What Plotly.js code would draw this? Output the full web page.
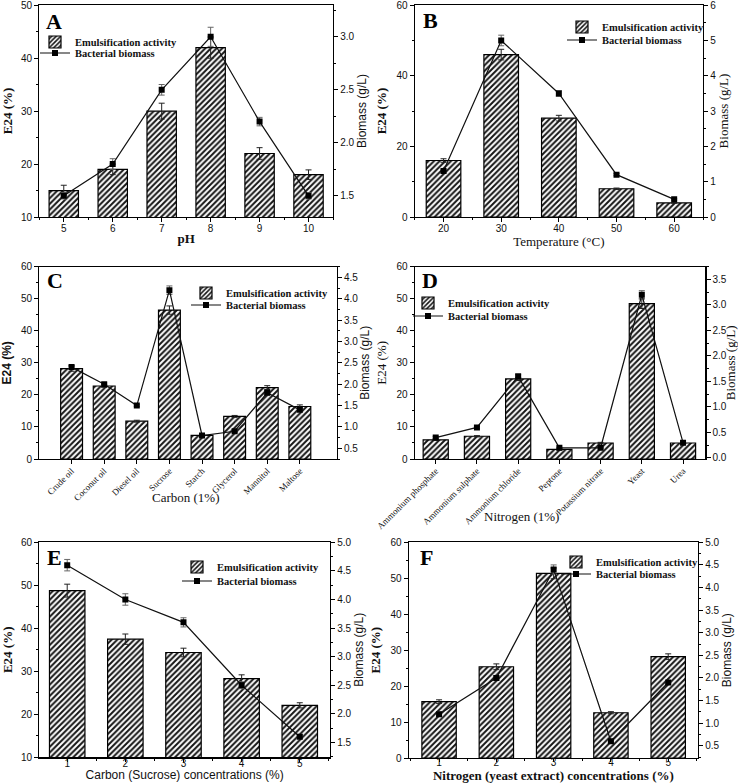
<!DOCTYPE html>
<html>
<head>
<meta charset="utf-8">
<script src="https://cdn.plot.ly/plotly-3.0.1.min.js"></script>
<style>
html,body{margin:0;padding:0;background:#fff;}
#chart{width:738px;height:784px;}
</style>
</head>
<body>
<div id="chart"></div>
<script>
// ---------- Data ----------
const pHLevels = [5, 6, 7, 8, 9, 10];
const pHEmulsification = [15, 19, 30, 42, 22, 18];
const pHEmulsificationErr = [1.0, 1.0, 1.5, 2.0, 1.1, 0.9];
const pHBiomass = [1.5, 1.8, 2.5, 3.0, 2.2, 1.5];
const pHBiomassErr = [0.03, 0.05, 0.05, 0.09, 0.04, 0.03];

const tempLevels = [20, 30, 40, 50, 60];
const tempEmulsification = [16, 46, 28, 8, 4];
const tempEmulsificationErr = [0.5, 1.5, 0.8, 0.2, 0.1];
const tempBiomass = [1.3, 5.0, 3.5, 1.2, 0.5];
const tempBiomassErr = [0.05, 0.15, 0.08, 0.03, 0.02];

const carbonSources = ['Crude oil', 'Coconut oil', 'Diesel oil', 'Sucrose', 'Starch', 'Glycerol', 'Mannitol', 'Maltose'];
const carbonEmulsification = [28.2, 22.8, 11.8, 46.5, 7.4, 13.3, 22.3, 16.4];
const carbonEmulsificationErr = [0.8, 0.4, 0.3, 1.3, 0.2, 0.3, 0.6, 0.5];
const carbonBiomass = [2.4, 2.0, 1.5, 4.2, 0.8, 0.9, 1.8, 1.4];
const carbonBiomassErr = [0.04, 0.03, 0.02, 0.1, 0.02, 0.02, 0.05, 0.03];

const nitrogenSources = ['Ammonium phosphate', 'Ammonium sulphate', 'Ammonium chloride', 'Peptone', 'Potassium nitrate', 'Yeast', 'Urea'];
const nitrogenEmulsification = [6, 7.1, 25, 3, 5, 48.5, 5];
const nitrogenEmulsificationErr = [0.2, 0.2, 0.5, 0.2, 0.2, 1.5, 0.2];
const nitrogenBiomass = [0.4, 0.6, 1.6, 0.2, 0.2, 3.2, 0.3];
const nitrogenBiomassErr = [0.02, 0.02, 0.03, 0.01, 0.01, 0.08, 0.01];

const sucroseConc = [1, 2, 3, 4, 5];
const sucroseEmulsification = [48.8, 37.5, 34.4, 28.3, 22.1];
const sucroseEmulsificationErr = [1.5, 1.2, 1.0, 0.9, 0.6];
const sucroseBiomass = [4.6, 4.0, 3.6, 2.5, 1.6];
const sucroseBiomassErr = [0.1, 0.1, 0.08, 0.06, 0.03];

const yeastConc = [1, 2, 3, 4, 5];
const yeastEmulsification = [15.7, 25.4, 51.4, 12.6, 28.2];
const yeastEmulsificationErr = [0.5, 0.8, 1.5, 0.3, 0.8];
const yeastBiomass = [1.2, 2.0, 4.4, 0.6, 1.9];
const yeastBiomassErr = [0.05, 0.05, 0.1, 0.02, 0.03];

const panelLetters = ['A', 'B', 'C', 'D', 'E', 'F'];
const xTitles = ['pH', 'Temperature (°C)', 'Carbon (1%)', 'Nitrogen (1%)', 'Carbon (Sucrose) concentrations (%)', 'Nitrogen (yeast extract) concentrations (%)'];
const barName = 'Emulsification activity';
const lineName = 'Bacterial biomass';
const leftTitle = 'E24 (%)';
const rightTitle = 'Biomass (g/L)';

// ---------- Geometry helpers ----------
const SERIF = 'Liberation Serif, Times New Roman, serif';
const SANS = 'Liberation Sans, Arial, sans-serif';
const W = 738, H = 784;
const ML = 36, MR = 30, MT = 4, MB = 26;
const PW = W - ML - MR, PH = H - MT - MB;
const clamp = v => Math.max(0, Math.min(1, v));
const px = v => (v - ML) / PW;
const py = v => 1 - (v - MT) / PH;

const panels = [
  {x: pHLevels, e: pHEmulsification, ee: pHEmulsificationErr, b: pHBiomass, be: pHBiomassErr, width: 0.6,
   dom: [39.3, 333, 5, 217], xr: [4.5, 10.5], xd: 1, yl: [10, 50.05], yd: 10, yr: [1.3, 3.3], yrd: 0.5, fmt: '.1f',
   yTitleFont: {family: SERIF, size: 13, weight: 'bold'}, xTitleFont: {family: SERIF, size: 13, weight: 'bold'}, rTitleFont: {family: SANS, size: 12},
   xStand: 0, xLabOff: -2, rows: [42, 53], textX: 76, letter: [54, 21]},
  {x: tempLevels, e: tempEmulsification, ee: tempEmulsificationErr, b: tempBiomass, be: tempBiomassErr, width: 6,
   dom: [414.7, 703, 5, 217], xr: [15, 65], xd: 10, yl: [0, 60.05], yd: 20, yr: [0, 6.005], yrd: 1, fmt: 'd',
   yTitleFont: {family: SERIF, size: 13, weight: 'bold'}, xTitleFont: {family: SERIF, size: 13}, rTitleFont: {family: SERIF, size: 13},
   xStand: 0, xLabOff: -2, rows: [27, 40], textX: 603, letter: [430, 20]},
  {x: carbonSources, e: carbonEmulsification, ee: carbonEmulsificationErr, b: carbonBiomass, be: carbonBiomassErr, width: 0.67, cat: true,
   dom: [39.3, 336.7, 266.7, 459], xr: [-0.99, 8.13], yl: [0, 60.05], yd: 10, yr: [0.25, 4.75], yrd: 0.5, fmt: '.1f',
   yTitleFont: {family: SANS, size: 12, weight: 'bold'}, xTitleFont: {family: SERIF, size: 13}, rTitleFont: {family: SANS, size: 12},
   xTitlePos: [186, 497], rows: [293, 305], textX: 227, letter: [55, 280]},
  {x: nitrogenSources, e: nitrogenEmulsification, ee: nitrogenEmulsificationErr, b: nitrogenBiomass, be: nitrogenBiomassErr, width: 0.61, cat: true,
   dom: [414.7, 705.3, 266.7, 459], xr: [-0.51, 6.54], yl: [0, 60.05], yd: 10, yr: [-0.02, 3.75], yrd: 0.5, fmt: '.1f',
   yTitleFont: {family: SERIF, size: 13}, xTitleFont: {family: SERIF, size: 13}, rTitleFont: {family: SERIF, size: 13},
   xTitlePos: [521, 516], rows: [303, 316], textX: 449, letter: [430, 280]},
  {x: sucroseConc, e: sucroseEmulsification, ee: sucroseEmulsificationErr, b: sucroseBiomass, be: sucroseBiomassErr, width: 0.61,
   dom: [39.3, 330, 542.3, 757.3], xr: [0.52, 5.52], xd: 1, yl: [10, 60.05], yd: 10, yr: [1.24, 5.0], yrd: 0.5, fmt: '.1f',
   yTitleFont: {family: SERIF, size: 13, weight: 'bold'}, xTitleFont: {family: SANS, size: 12}, rTitleFont: {family: SANS, size: 12},
   xStand: 0, xLabOff: -7, xTickLen: 3, rows: [567, 581], textX: 218, letter: [54, 557]},
  {x: yeastConc, e: yeastEmulsification, ee: yeastEmulsificationErr, b: yeastBiomass, be: yeastBiomassErr, width: 0.6,
   dom: [408.7, 698, 542.3, 758], xr: [0.47, 5.52], xd: 1, yl: [0, 60.05], yd: 10, yr: [0.23, 5.0], yrd: 0.5, fmt: '.1f',
   yTitleFont: {family: SERIF, size: 13, weight: 'bold'}, xTitleFont: {family: SERIF, size: 13, weight: 'bold'}, rTitleFont: {family: SANS, size: 12},
   xStand: 0, xLabOff: -8, xTickLen: 3, rows: [562, 574], textX: 597, letter: [426, 557]}
];

const data = [];
const layout = {
  width: W, height: H,
  margin: {l: ML, r: MR, t: MT, b: MB},
  paper_bgcolor: '#fff', plot_bgcolor: 'rgba(0,0,0,0)',
  font: {family: SANS, size: 10, color: '#111'},
  bargap: 0, annotations: [], showlegend: true
};
const legendKey = k => 'legend' + (k === 1 ? '' : k);

panels.forEach((p, i) => {
  const n = i + 1;
  const xa = 'x' + (n === 1 ? '' : n);
  const ya = 'y' + (n === 1 ? '' : n);
  const yr = 'y' + (n + 6);
  const legBar = legendKey(2 * i + 1);
  const legLine = legendKey(2 * i + 2);

  data.push({
    type: 'bar', x: p.x, y: p.e, width: p.width, name: barName, xaxis: xa, yaxis: ya, legend: legBar,
    marker: {color: '#151515', line: {color: '#000', width: 1.2},
      pattern: {shape: '/', fgcolor: '#151515', bgcolor: '#ffffff', size: 4, solidity: 0.5}},
    error_y: {type: 'data', array: p.ee, visible: true, color: '#222', thickness: 1, width: 3}
  });
  data.push({
    type: 'scatter', mode: 'lines+markers', x: p.x, y: p.b, name: lineName, xaxis: xa, yaxis: yr, legend: legLine,
    line: {color: '#111', width: 1.2}, marker: {symbol: 'square', size: 6, color: '#000'},
    error_y: {type: 'data', array: p.be, visible: true, color: '#666', thickness: 1, width: 3}
  });

  const xKey = 'xaxis' + (n === 1 ? '' : n);
  const yKey = 'yaxis' + (n === 1 ? '' : n);
  const yrKey = 'yaxis' + (n + 6);

  const xAxis = {
    domain: [clamp(px(p.dom[0])), clamp(px(p.dom[1]))], anchor: ya, range: p.xr,
    showline: true, linecolor: '#000', linewidth: 1.2, mirror: true,
    ticks: 'outside', ticklen: p.xTickLen || 4, tickcolor: '#000', showgrid: false, zeroline: false,
    automargin: false, ticklabeloverflow: 'allow'
  };
  if (p.cat) {
    xAxis.type = 'category';
    xAxis.tickangle = -45;
    xAxis.ticklabelstandoff = -2;
    xAxis.tickfont = {family: SERIF, size: 9, color: '#111'};
    layout.annotations.push({
      xref: 'paper', yref: 'paper', x: px(p.xTitlePos[0]), y: py(p.xTitlePos[1]),
      xanchor: 'center', yanchor: 'middle', showarrow: false,
      text: xTitles[i], font: Object.assign({color: '#111'}, p.xTitleFont)
    });
  } else {
    xAxis.dtick = p.xd;
    xAxis.tickfont = {family: SANS, size: 10, color: '#111'};
    xAxis.ticklabelstandoff = p.xLabOff;
    xAxis.minor = {dtick: p.xd / 2, ticklen: 2, ticks: 'outside', tickcolor: '#000', showgrid: false};
    xAxis.title = {text: xTitles[i], font: Object.assign({color: '#111'}, p.xTitleFont), standoff: p.xStand};
  }
  layout[xKey] = xAxis;

  layout[yKey] = {
    domain: [clamp(py(p.dom[3])), clamp(py(p.dom[2]))], anchor: xa, range: p.yl, dtick: p.yd,
    showline: true, linecolor: '#000', linewidth: 1.2,
    ticks: 'outside', ticklen: 4, tickcolor: '#000', showgrid: false, zeroline: false,
    minor: {dtick: p.yd / 2, ticklen: 2, ticks: 'outside', tickcolor: '#000', showgrid: false},
    tickfont: {family: SANS, size: 10, color: '#111'},
    automargin: false, ticklabeloverflow: 'allow',
    title: {text: leftTitle, font: Object.assign({color: '#111'}, p.yTitleFont), standoff: 6}
  };

  layout[yrKey] = {
    overlaying: ya, side: 'right', anchor: xa, range: p.yr, dtick: p.yrd, tick0: 0, tickformat: p.fmt,
    showline: true, linecolor: '#000', linewidth: 1.2,
    ticks: 'outside', ticklen: 4, tickcolor: '#000', showgrid: false, zeroline: false,
    minor: {dtick: p.yrd / 2, ticklen: 2, ticks: 'outside', tickcolor: '#000', showgrid: false},
    tickfont: {family: SANS, size: 10, color: '#111'},
    automargin: false, ticklabeloverflow: 'allow',
    title: {text: rightTitle, font: Object.assign({color: '#111'}, p.rTitleFont), standoff: 3}
  };

  [legBar, legLine].forEach((lk, r) => {
    layout[lk] = {
      x: px(p.textX - 41), y: py(p.rows[r]), xanchor: 'left', yanchor: 'middle',
      bgcolor: 'rgba(0,0,0,0)', borderwidth: 0,
      font: {family: SERIF, size: 10.5, color: '#111', weight: 'bold'},
      itemwidth: 30, tracegroupgap: 0
    };
  });

  layout.annotations.push({
    xref: 'paper', yref: 'paper', x: px(p.letter[0]), y: py(p.letter[1]),
    xanchor: 'center', yanchor: 'middle', showarrow: false,
    text: '<b>' + panelLetters[i] + '</b>',
    font: {family: SERIF, size: 22, color: '#000'}
  });
});

const gd = document.getElementById('chart');
Plotly.newPlot(gd, data, layout, {displayModeBar: false, staticPlot: true}).then(() => {
  // make sure the library-drawn tick labels at the very ends of the axes stay visible
  gd.querySelectorAll('g.yaxislayer-above g, g.xaxislayer-above g').forEach(g => {
    g.style.opacity = '';
    g.removeAttribute('opacity');
    g.removeAttribute('display');
    g.style.display = '';
    const t = g.querySelector('text');
    if (t) {
      t.style.opacity = '';
      t.removeAttribute('opacity');
      t.removeAttribute('display');
      t.style.display = '';
    }
  });
});
</script>
</body>
</html>
